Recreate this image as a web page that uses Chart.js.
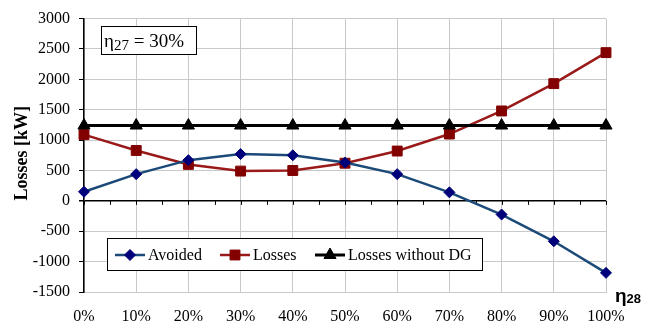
<!DOCTYPE html>
<html>
<head>
<meta charset="utf-8">
<script src="https://cdn.jsdelivr.net/npm/chart.js@4/dist/chart.umd.min.js"></script>
<style>
  html, body { margin: 0; padding: 0; background: #fff; }
  #wrap { width: 661px; height: 329px; }
</style>
</head>
<body>
<div id="wrap"><canvas id="c" width="661" height="329"></canvas></div>
<script>
// η28 steps along the x axis
const categories = ['0%', '10%', '20%', '30%', '40%', '50%', '60%', '70%', '80%', '90%', '100%'];

// Series values in kW
const avoided = [150, 440, 670, 770, 750, 630, 440, 140, -225, -665, -1185];
const losses = [1090, 830, 600, 490, 500, 620, 820, 1100, 1480, 1930, 2440];
const lossesWithoutDG = [1240, 1240, 1240, 1240, 1240, 1240, 1240, 1240, 1240, 1240, 1240];

// Value axis range and step
const yMin = -1500;
const yMax = 3000;
const yStep = 500;

const SERIF = '"Liberation Serif", "Times New Roman", serif';
const SANS = '"Liberation Sans", Arial, sans-serif';

const BLUE_LINE = '#1c4a78';
const BLUE_MARK = '#00007a';
const RED_LINE = '#9a1a1a';
const RED_MARK = '#820000';
const GRID = '#c9c9c9';

const seriesStyles = [
  { label: 'Avoided', line: BLUE_LINE, mark: BLUE_MARK, style: 'rectRot', r: 5.5 },
  { label: 'Losses', line: RED_LINE, mark: RED_MARK, style: 'rect', r: 7 },
  { label: 'Losses without DG', line: '#000', mark: '#000', style: 'triangle', r: 7 }
];

// Minor tick marks along the zero line, every half category
const zeroTicks = {
  id: 'zeroTicks',
  beforeDatasetsDraw(chart) {
    const { ctx, chartArea } = chart;
    const y0 = chart.scales.y.getPixelForValue(0);
    ctx.save();
    ctx.strokeStyle = '#000';
    ctx.lineWidth = 1;
    const n = (categories.length - 1) * 2;
    for (let i = 0; i <= n; i++) {
      const x = Math.round(chartArea.left + (chartArea.right - chartArea.left) * i / n) + 0.5;
      ctx.beginPath();
      ctx.moveTo(x, y0);
      ctx.lineTo(x, y0 + 4);
      ctx.stroke();
    }
    ctx.restore();
  }
};

function drawMarker(ctx, style, x, y, r) {
  if (style === 'rectRot') {
    ctx.moveTo(x, y - r); ctx.lineTo(x + r, y); ctx.lineTo(x, y + r); ctx.lineTo(x - r, y); ctx.closePath();
  } else if (style === 'rect') {
    const s = r * Math.SQRT1_2;
    ctx.rect(x - s, y - s, 2 * s, 2 * s);
  } else {
    const half = r * Math.sqrt(3) / 2;
    ctx.moveTo(x, y - r); ctx.lineTo(x + half, y + r / 2); ctx.lineTo(x - half, y + r / 2); ctx.closePath();
  }
}

// Axis titles, parameter box and legend box
const decorations = {
  id: 'decorations',
  afterDraw(chart) {
    const { ctx, chartArea } = chart;
    ctx.save();

    // value axis title
    ctx.save();
    ctx.translate(22, (chartArea.top + chartArea.bottom) / 2 - 2);
    ctx.rotate(-Math.PI / 2);
    ctx.font = 'bold 18px ' + SERIF;
    ctx.fillStyle = '#000';
    ctx.textAlign = 'center';
    ctx.textBaseline = 'middle';
    ctx.fillText('Losses [kW]', 0, 0);
    ctx.restore();

    // category axis title
    ctx.fillStyle = '#000';
    ctx.textBaseline = 'alphabetic';
    ctx.textAlign = 'left';
    ctx.font = 'bold 19px ' + SANS;
    ctx.fillText('η', 615, 302);
    let w = ctx.measureText('η').width;
    ctx.font = 'bold 13px ' + SANS;
    ctx.fillText('28', 615 + w, 303);

    // parameter box
    ctx.fillStyle = '#fff';
    ctx.fillRect(101.5, 26.5, 95, 28);
    ctx.strokeStyle = '#000';
    ctx.lineWidth = 1;
    ctx.strokeRect(101.5, 26.5, 95, 28);
    ctx.fillStyle = '#000';
    ctx.font = '19px ' + SERIF;
    ctx.fillText('η', 104, 47);
    w = ctx.measureText('η').width;
    ctx.font = '15px ' + SERIF;
    ctx.fillText('27', 104 + w, 50);
    const w2 = ctx.measureText('27').width;
    ctx.font = '19px ' + SERIF;
    ctx.fillText(' = 30%', 104 + w + w2, 47);

    // legend box
    ctx.fillStyle = '#fff';
    ctx.fillRect(107.5, 238.5, 375, 32);
    ctx.strokeStyle = '#000';
    ctx.strokeRect(107.5, 238.5, 375, 32);
    const ly = 255;
    const starts = [115, 220, 315];
    ctx.font = '16px ' + SERIF;
    ctx.textBaseline = 'middle';
    seriesStyles.forEach((s, i) => {
      const x0 = starts[i];
      ctx.strokeStyle = s.line;
      ctx.lineWidth = s.style === 'triangle' ? 3 : 2.5;
      ctx.beginPath();
      ctx.moveTo(x0, ly);
      ctx.lineTo(x0 + 30, ly);
      ctx.stroke();
      ctx.fillStyle = s.mark;
      ctx.strokeStyle = s.mark;
      ctx.lineWidth = 1;
      ctx.beginPath();
      drawMarker(ctx, s.style, x0 + 15, ly, s.r);
      ctx.fill();
      ctx.stroke();
      ctx.fillStyle = '#000';
      ctx.fillText(s.label, x0 + 33, ly + 1);
    });

    ctx.restore();
  }
};

const datasets = [
  { data: lossesWithoutDG, s: seriesStyles[2], order: 0, width: 3 },
  { data: avoided, s: seriesStyles[0], order: 1, width: 2.5 },
  { data: losses, s: seriesStyles[1], order: 2, width: 2.5 }
].map(d => ({
  label: d.s.label,
  data: d.data,
  order: d.order,
  borderColor: d.s.line,
  borderWidth: d.width,
  backgroundColor: d.s.mark,
  pointStyle: d.s.style,
  pointRadius: d.s.r,
  pointBackgroundColor: d.s.mark,
  pointBorderColor: d.s.mark,
  pointBorderWidth: 1,
  tension: 0,
  fill: false
}));

new Chart(document.getElementById('c'), {
  type: 'line',
  data: { labels: categories, datasets },
  options: {
    responsive: false,
    animation: false,
    devicePixelRatio: 1,
    layout: { padding: { top: 12, right: 55, left: 0, bottom: 0 } },
    plugins: { legend: { display: false }, tooltip: { enabled: false } },
    scales: {
      x: {
        type: 'category',
        offset: false,
        afterFit(scale) { scale.height = 37; },
        grid: { color: GRID, lineWidth: 1, drawTicks: false },
        border: { color: GRID, width: 1 },
        ticks: {
          color: '#000',
          font: { family: SERIF, size: 16 },
          padding: 15,
          maxRotation: 0,
          autoSkip: false
        }
      },
      y: {
        min: yMin,
        max: yMax,
        afterFit(scale) { scale.width = 84; },
        grid: {
          color: c => (c.tick && c.tick.value === 0 ? '#000' : GRID),
          lineWidth: c => (c.tick && c.tick.value === 0 ? 1.5 : 1),
          tickColor: '#000',
          tickLength: 5
        },
        border: { color: '#000', width: 1.5 },
        ticks: {
          stepSize: yStep,
          color: '#000',
          font: { family: SERIF, size: 16 },
          padding: 9,
          callback: v => String(v)
        }
      }
    }
  },
  plugins: [zeroTicks, decorations]
});
</script>
</body>
</html>
